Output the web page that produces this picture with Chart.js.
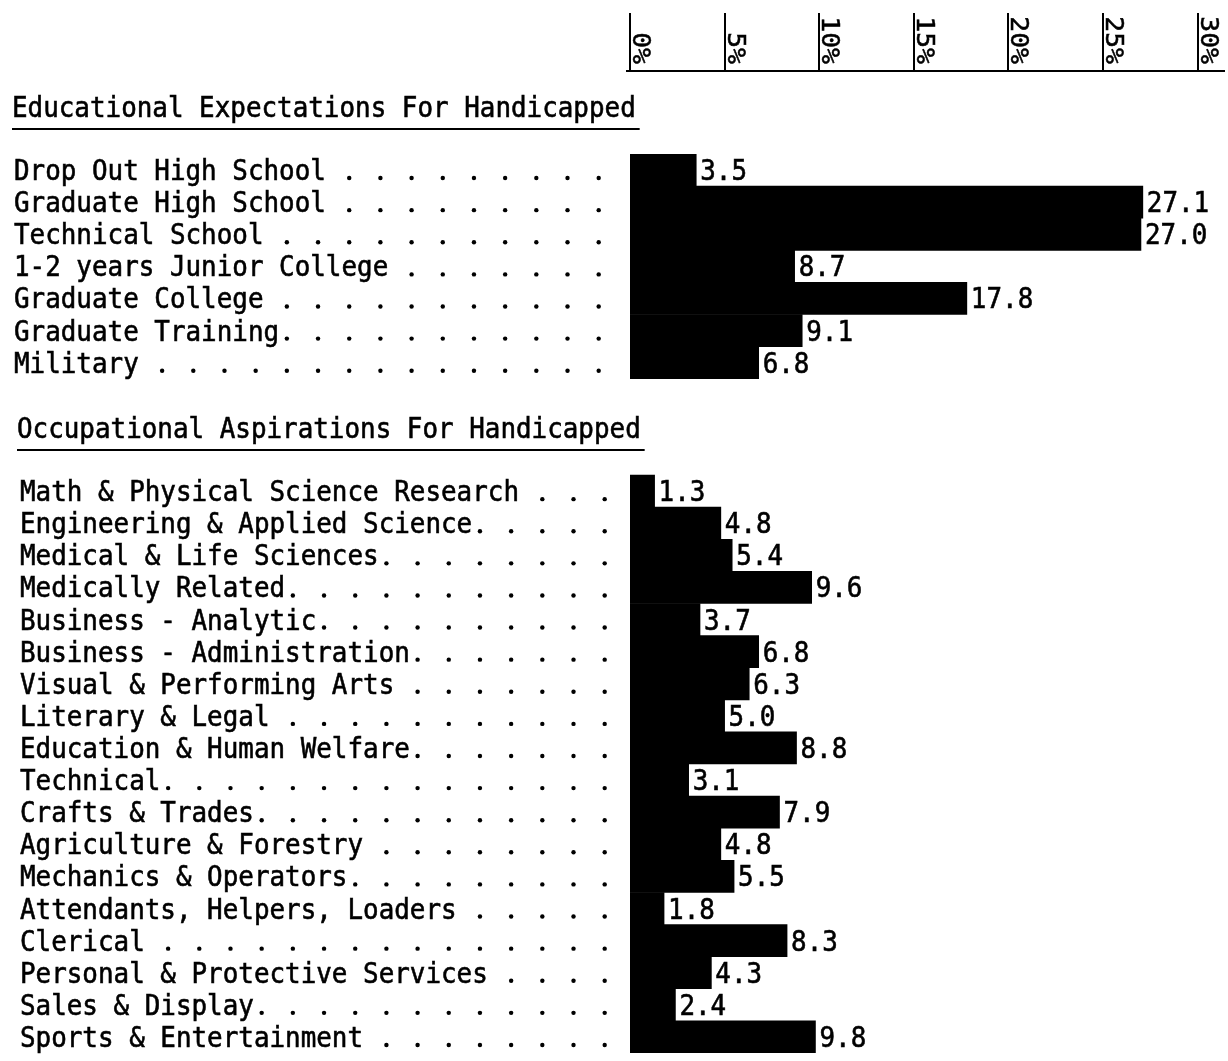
<!DOCTYPE html>
<html>
<head>
<meta charset="utf-8">
<title>Educational Expectations / Occupational Aspirations</title>
<script src="https://cdn.jsdelivr.net/npm/chart.js@4/dist/chart.umd.min.js"></script>
<style>
  html, body { margin: 0; padding: 0; background: #fff; }
  canvas { display: block; }
</style>
</head>
<body>
<canvas id="chart" width="1228" height="1061"></canvas>
<script>
// ─── Data ───
const eduTitle = 'Educational Expectations For Handicapped';
const eduLabels = [
    'Drop Out High School',
    'Graduate High School',
    'Technical School',
    '1-2 years Junior College',
    'Graduate College',
    'Graduate Training',
    'Military'
];
const eduValues = [3.5, 27.1, 27.0, 8.7, 17.8, 9.1, 6.8];

const occTitle = 'Occupational Aspirations For Handicapped';
const occLabels = [
    'Math & Physical Science Research',
    'Engineering & Applied Science',
    'Medical & Life Sciences',
    'Medically Related',
    'Business - Analytic',
    'Business - Administration',
    'Visual & Performing Arts',
    'Literary & Legal',
    'Education & Human Welfare',
    'Technical',
    'Crafts & Trades',
    'Agriculture & Forestry',
    'Mechanics & Operators',
    'Attendants, Helpers, Loaders',
    'Clerical',
    'Personal & Protective Services',
    'Sales & Display',
    'Sports & Entertainment'
];
const occValues = [1.3, 4.8, 5.4, 9.6, 3.7, 6.8, 6.3, 5.0, 8.8, 3.1, 7.9, 4.8, 5.5, 1.8, 8.3, 4.3, 2.4, 9.8];

const tickValues = [0, 5, 10, 15, 20, 25, 30];
const tickLabels = ['0%', '5%', '10%', '15%', '20%', '25%', '30%'];

// ─── Layout bits ───
const GAP_ROWS = 3;                 // blank rows between the two sections
const FONT = '28px "DejaVu Sans Mono", "Liberation Mono", monospace';
const SX = 0.925;                   // squeeze glyphs to a typewriter pitch (~15.6px)
const CELL = 28 * 0.602 * SX;       // one typewriter column
const TICK_FONT = '24px "DejaVu Sans Mono", "Liberation Mono", monospace';
const LEADER_END = 37;              // last typewriter column used by the dot leaders

const gapLabels = Array(GAP_ROWS).fill('');
const allLabels = [...eduLabels, ...gapLabels, ...occLabels];
const allValues = [...eduValues, ...gapLabels.map(() => null), ...occValues];

// typed text: squeezed a little, with a light stroke to thicken it
function typeText(ctx, str, x, y, sx = SX) {
    ctx.save();
    ctx.translate(x, y);
    ctx.scale(sx, 1);
    ctx.fillText(str, 0, 0);
    ctx.lineWidth = 0.6;
    ctx.strokeText(str, 0, 0);
    ctx.restore();
}

// ─── Overlay: top axis, titles, row labels, value labels ───
const overlay = {
    id: 'overlay',
    afterDatasetsDraw(chart) {
        const ctx = chart.ctx;
        const x = chart.scales.x;
        const y = chart.scales.y;
        const meta = chart.getDatasetMeta(0);
        const rowH = y.getPixelForValue(1) - y.getPixelForValue(0);

        ctx.save();
        ctx.fillStyle = '#000';
        ctx.strokeStyle = '#000';

        // top axis
        const axisY = 71;
        ctx.lineWidth = 2;
        ctx.beginPath();
        ctx.moveTo(x.getPixelForValue(0) - 4, axisY);
        ctx.lineTo(chart.width - 3, axisY);
        ctx.stroke();
        ctx.font = TICK_FONT;
        tickValues.forEach((v, i) => {
            const tx = Math.round(x.getPixelForValue(v));
            ctx.lineWidth = 2;
            ctx.beginPath();
            ctx.moveTo(tx, 13);
            ctx.lineTo(tx, axisY);
            ctx.stroke();
            ctx.save();
            ctx.translate(tx + 3, 64);
            ctx.rotate(Math.PI / 2);
            ctx.scale(1.1, 1);
            ctx.textAlign = 'right';
            ctx.textBaseline = 'alphabetic';
            ctx.fillText(tickLabels[i], 0, 0);
            ctx.lineWidth = 0.5;
            ctx.strokeText(tickLabels[i], 0, 0);
            ctx.restore();
        });

        // section titles, underlined
        ctx.font = FONT;
        ctx.textAlign = 'left';
        ctx.textBaseline = 'alphabetic';
        const titles = [
            { text: eduTitle, x: 12, row: 0 },
            { text: occTitle, x: 17, row: eduLabels.length + GAP_ROWS }
        ];
        titles.forEach(t => {
            const base = y.getPixelForValue(t.row) - rowH / 2 - 37;
            typeText(ctx, t.text, t.x, base);
            const w = t.text.length * CELL;
            ctx.lineWidth = 2;
            ctx.beginPath();
            ctx.moveTo(t.x, base + 12);
            ctx.lineTo(t.x + w + 4, base + 12);
            ctx.stroke();
        });

        // row labels with dot leaders on odd columns, like the typed original
        allLabels.forEach((lab, i) => {
            if (!lab) return;
            const lx = i < eduLabels.length ? 14 : 20;
            const cy = y.getPixelForValue(i);
            typeText(ctx, lab, lx, cy + 10);
            for (let c = lab.length; c <= LEADER_END; c++) {
                if (c % 2 !== 1) continue;
                ctx.beginPath();
                ctx.arc(lx + (c + 0.5) * CELL, cy + 8, 2.2, 0, Math.PI * 2);
                ctx.fill();
            }
        });

        // values at bar ends
        meta.data.forEach((bar, i) => {
            const v = allValues[i];
            if (v == null) return;
            typeText(ctx, v.toFixed(1), bar.x + 4, bar.y + 10);
        });

        ctx.restore();
    }
};

// ─── Chart ───
new Chart(document.getElementById('chart').getContext('2d'), {
    type: 'bar',
    data: {
        labels: allLabels,
        datasets: [{
            data: allValues,
            backgroundColor: '#000',
            borderWidth: 0,
            barPercentage: 1,
            categoryPercentage: 1
        }]
    },
    options: {
        indexAxis: 'y',
        responsive: false,
        devicePixelRatio: 1,
        animation: false,
        layout: { padding: { left: 630, right: 0, top: 154, bottom: 8 } },
        plugins: {
            legend: { display: false },
            tooltip: { enabled: false }
        },
        scales: {
            x: { type: 'linear', min: 0, max: 31.6, display: false },
            y: { type: 'category', display: false }
        }
    },
    plugins: [overlay]
});
</script>
</body>
</html>
